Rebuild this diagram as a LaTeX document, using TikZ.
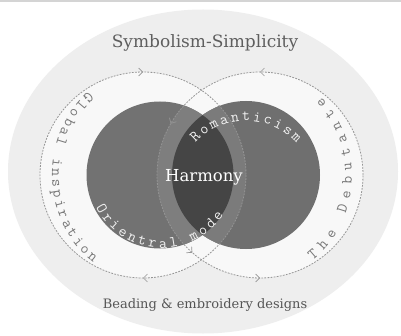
\documentclass[tikz,border=0pt]{standalone}
\usepackage{fontspec}
\newfontfamily\serifdv{DejaVu Serif}
\usetikzlibrary{decorations.text,decorations.markings,arrows.meta}
\definecolor{topline}{HTML}{D4D4D4}
\definecolor{bgell}{HTML}{EEEEEE}
\definecolor{ringfill}{HTML}{F8F8F8}
\definecolor{lcol}{HTML}{727272}
\definecolor{rcol}{HTML}{6F6F6F}
\definecolor{lband}{HTML}{7E7E7E}
\definecolor{rband}{HTML}{7B7B7B}
\definecolor{midcol}{HTML}{454545}
\definecolor{dashcol}{HTML}{959595}
\definecolor{titlecol}{HTML}{5E5E5E}
\definecolor{bottomcol}{HTML}{555555}
\definecolor{ringtxt}{HTML}{777777}
\definecolor{intxt}{HTML}{F2F2F2}
\newcommand\ringfont{\ttfamily\fontsize{15.5}{15.5}\selectfont}
\tikzset{
  dashring/.style={draw=dashcol, line width=0.8pt, dash pattern=on 1.8pt off 1.3pt},
  barb/.tip={Straight Barb[length=4pt,width=8pt,line width=0.7pt]},
  maintext/.style={inner sep=0pt},
}
\begin{document}
\begin{tikzpicture}[x=1pt,y=1pt]
\useasboundingbox (0,0) rectangle (401,335);
\fill[white] (0,0) rectangle (401,335);
\fill[topline] (0,333) rectangle (401,335);
\coordinate (E) at (203,163.5);
\coordinate (LF) at (160,160);
\coordinate (RF) at (246,160);
\coordinate (LD) at (143,160);
\coordinate (RD) at (260,160);
\coordinate (RT) at (246,145);
\coordinate (OT) at (162,161);
% background ellipse
\fill[bgell] (E) ellipse [x radius=195pt, y radius=162pt];
% lighter fill inside dashed circles
\fill[ringfill] (LD) circle[radius=103pt] (RD) circle[radius=103pt];
% filled circles
\fill[lcol] (LF) circle[radius=73.5pt];
\fill[rcol] (RF) circle[radius=74pt];
\begin{scope}
  \clip (LF) circle[radius=73.5pt];
  \fill[lband] (RD) circle[radius=103pt];
\end{scope}
\begin{scope}
  \clip (RF) circle[radius=74pt];
  \fill[rband] (LD) circle[radius=103pt];
\end{scope}
\begin{scope}
  \clip (LF) circle[radius=73.5pt];
  \fill[midcol] (RF) circle[radius=74pt];
\end{scope}
% dashed circles with arrows
\draw[dashring, postaction={decorate, decoration={markings,
    mark=at position 0.25 with {\arrow[dashcol,solid]{barb}},
    mark=at position 0.75 with {\arrow[dashcol,solid]{barb}}}}]
  (LD) ++(0:103pt) arc[start angle=0, end angle=-360, radius=103pt];
\draw[dashring, postaction={decorate, decoration={markings,
    mark=at position 0.25 with {\arrow[dashcol,solid]{barb}},
    mark=at position 0.417 with {\arrow[dashcol,solid]{barb}},
    mark=at position 0.636 with {\arrow[dashcol,solid]{barb}},
    mark=at position 0.75 with {\arrow[dashcol,solid]{barb}}}}]
  (RD) ++(0:103pt) arc[start angle=0, end angle=360, radius=103pt];
% curved texts
\path[decorate, decoration={text along path, text color=ringtxt,
    text={|\ringfont|Global inspiration}, text align={fit to path}}]
  (LD) ++(127:91 and 104) arc[start angle=127, end angle=237, x radius=91pt, y radius=104pt];
\path[decorate, decoration={text along path, text color=ringtxt,
    text={|\ringfont|The Debutante}, text align={fit to path}}]
  (RD) ++(-55:92 and 104) arc[start angle=-55, end angle=48, x radius=92pt, y radius=104pt];
\path[decorate, decoration={text along path, text color=intxt,
    text={|\ringfont|Romanticism}, text align={fit to path}}]
  (RT) ++(137:69) arc[start angle=137, end angle=43, radius=69pt];
\path[decorate, decoration={text along path, text color=intxt,
    text={|\ringfont|Orientral mode}, text align={fit to path}}]
  (OT) ++(207:74) arc[start angle=207, end angle=326, radius=74pt];
% straight texts
\node[maintext, text=titlecol, font=\serifdv\fontsize{17}{17}\selectfont] (title) at (205,292) {Symbolism-Simplicity};
\node[maintext, text=white, font=\serifdv\fontsize{16.5}{16.5}\selectfont] (harmony) at (204,158) {Harmony};
\node[maintext, text=bottomcol, font=\serifdv\fontsize{13}{13}\selectfont] (bottom) at (205,30) {Beading \& embroidery designs};
\end{tikzpicture}
\end{document}
